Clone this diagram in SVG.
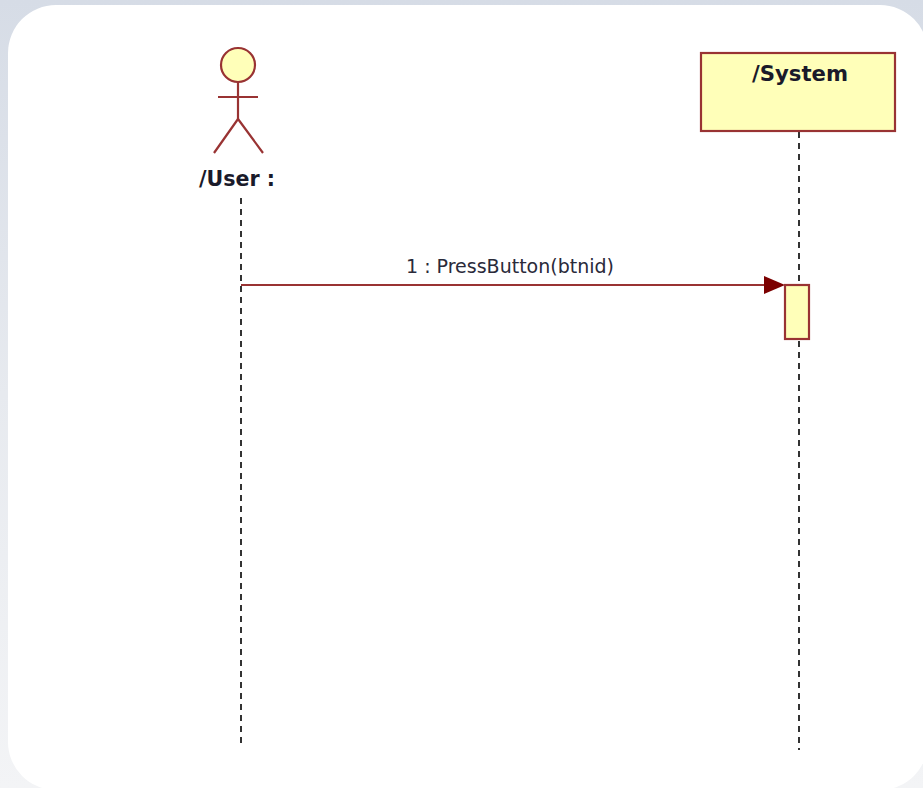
<svg xmlns="http://www.w3.org/2000/svg" width="923" height="788" viewBox="0 0 923 788">
  <style>
    .ln { stroke: #993333; stroke-width: 2.2; fill: none; }
    .fill { fill: #ffffb9; stroke: #993333; stroke-width: 2.2; }
    .life { stroke: #333333; stroke-width: 2; stroke-dasharray: 6 5; fill: none; }
    .name { font-family: "DejaVu Sans", "Liberation Sans", sans-serif; font-weight: 700; font-size: 21px; fill: #1a1a2a; }
    .msg { font-family: "DejaVu Sans", "Liberation Sans", sans-serif; font-size: 20px; fill: #2a2a3a; }
  </style>
  <defs>
    <linearGradient id="bg" x1="0" y1="0" x2="0" y2="1">
      <stop offset="0" stop-color="#d6dce6"/>
      <stop offset="0.5" stop-color="#e7eaef"/>
      <stop offset="1" stop-color="#f3f4f6"/>
    </linearGradient>
  </defs>
  <rect width="923" height="788" fill="url(#bg)"/>
  <rect x="8" y="5" width="920" height="785" rx="48" ry="48" fill="#ffffff"/>
  <g id="connectors">
    <line class="life" x1="241" y1="198" x2="241" y2="745"/>
    <line class="life" x1="799" y1="132" x2="799" y2="750"/>
    <line class="ln" x1="241" y1="285" x2="766" y2="285"/>
    <polygon points="764,276 785,285 764,294" fill="#7c0000"/>
  </g>
  <g id="user">
    <circle class="fill" cx="238" cy="65" r="17"/>
    <line class="ln" x1="238" y1="82" x2="238" y2="119"/>
    <line class="ln" x1="218" y1="97" x2="258" y2="97"/>
    <polyline class="ln" points="214,153 238,119 263,153"/>
    <text class="name" x="199" y="186" textLength="76" lengthAdjust="spacingAndGlyphs">/User :</text>
  </g>
  <g id="system">
    <rect class="fill" x="701" y="53" width="194" height="78"/>
    <text class="name" x="752" y="81" textLength="96" lengthAdjust="spacingAndGlyphs">/System</text>
  </g>
  <g id="activation">
    <rect class="fill" x="785" y="285" width="24" height="54"/>
  </g>
  <text class="msg" x="406" y="273" textLength="208" lengthAdjust="spacingAndGlyphs">1 : PressButton(btnid)</text>
</svg>
